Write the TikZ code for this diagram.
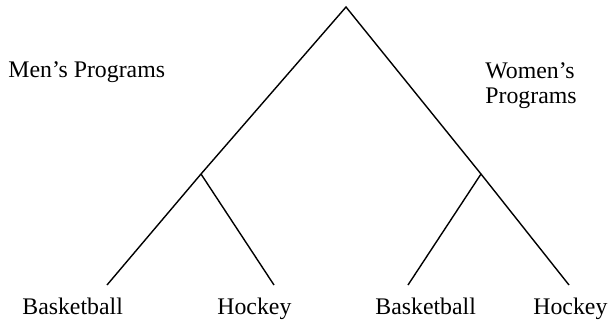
\documentclass[tikz,border=0pt]{standalone}
\usepackage{fontspec}
\setmainfont{LiberationSerif}[Extension=.ttf,UprightFont=*-Regular,BoldFont=*-Bold]
\begin{document}
\begin{tikzpicture}[x=0.5pt,y=-0.5pt,
  lbl/.style={anchor=base west,inner sep=0pt,font=\fontsize{11.9}{13}\selectfont},
  edge/.style={line width=0.7pt}]
\useasboundingbox (0,0) rectangle (610,321);
\coordinate (top) at (346,7);
\coordinate (lj) at (201,174);
\coordinate (rj) at (481,174);
\coordinate (l1) at (107,285);
\coordinate (l2) at (274,285);
\coordinate (r1) at (408,285);
\coordinate (r2) at (569,285);
\draw[edge] (l1) -- (lj) -- (top) -- (rj) -- (r2);
\draw[edge] (lj) -- (l2);
\draw[edge] (rj) -- (r1);
\node[lbl] (men) at (8,77) {Men’s Programs};
\node[lbl] (women) at (485,78) {Women’s};
\node[lbl] (women2) at (485,103) {Programs};
\node[lbl] (mb) at (22,314) {Basketball};
\node[lbl] (mh) at (217,314) {Hockey};
\node[lbl] (wb) at (375,314) {Basketball};
\node[lbl] (wh) at (533,314) {Hockey};
\end{tikzpicture}
\end{document}
